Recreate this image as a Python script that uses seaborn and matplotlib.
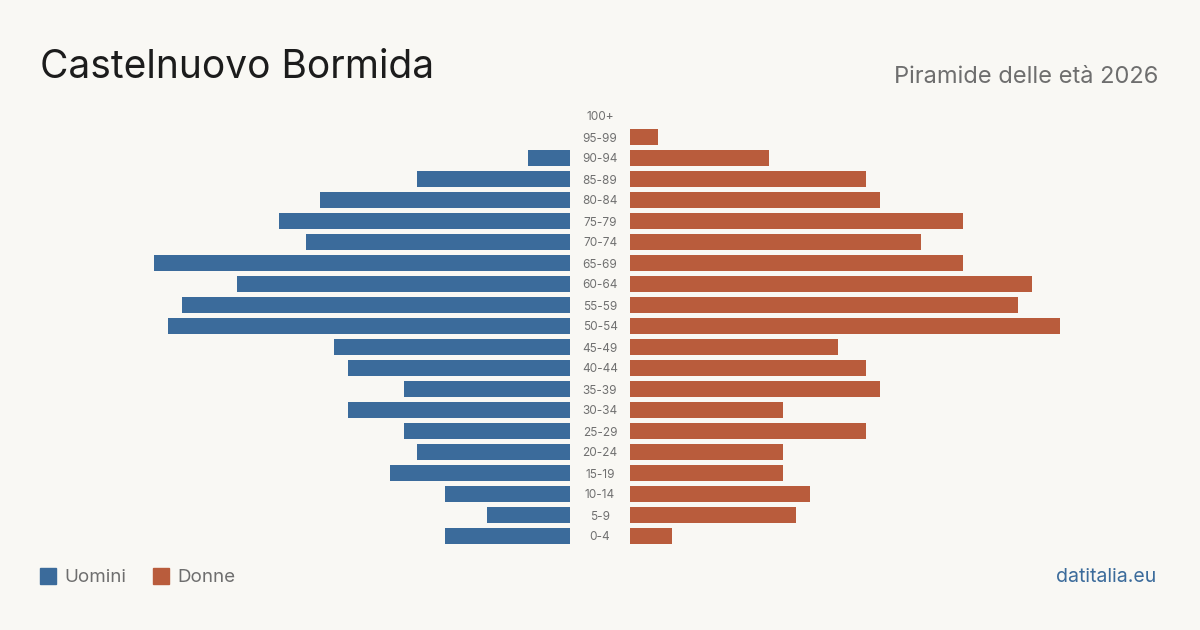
import matplotlib
matplotlib.use("Agg")
import matplotlib.pyplot as plt
import matplotlib.transforms as mtransforms
from matplotlib.patches import Rectangle
import seaborn as sns
import pandas as pd

ages = ["100+", "95-99", "90-94", "85-89", "80-84", "75-79", "70-74", "65-69",
        "60-64", "55-59", "50-54", "45-49", "40-44", "35-39", "30-34", "25-29",
        "20-24", "15-19", "10-14", "5-9", "0-4"]
men = [0, 0, 3, 11, 18, 21, 19, 30, 24, 28, 29, 17, 16, 12, 16, 12, 11, 13, 9, 6, 9]
women = [0, 2, 10, 17, 18, 24, 21, 24, 29, 28, 31, 15, 17, 18, 11, 17, 11, 11, 13, 12, 3]

BG = "#f9f8f4"
BLUE = "#3b6b9b"
ORANGE = "#b95c3c"
GRAY = "#6e6e6e"

sns.set_theme(style="white")
plt.rcParams["font.family"] = ["Inter", "DejaVu Sans"]

W, H = 1200, 630
fig = plt.figure(figsize=(W / 100, H / 100), dpi=100, facecolor=BG)

xmax = 31
top_px, bot_px = 105.5, 546.5
ax_l = fig.add_axes([140 / W, 1 - bot_px / H, 430 / W, (bot_px - top_px) / H])
ax_r = fig.add_axes([630 / W, 1 - bot_px / H, 430 / W, (bot_px - top_px) / H])

df = pd.DataFrame({"age": ages, "men": men, "women": women})

sns.barplot(data=df, x="men", y="age", orient="h", color=BLUE, saturation=1,
            width=0.8, ax=ax_l, order=ages, linewidth=0, edgecolor="none")
sns.barplot(data=df, x="women", y="age", orient="h", color=ORANGE, saturation=1,
            width=0.8, ax=ax_r, order=ages, linewidth=0, edgecolor="none")

for ax in (ax_l, ax_r):
    ax.set_facecolor("none")
    ax.set_ylim(len(ages) - 0.5, -0.5)
    ax.set_xlabel("")
    ax.set_ylabel("")
    ax.set_xticks([])
    ax.set_yticks([])
    for s in ax.spines.values():
        s.set_visible(False)
ax_l.set_xlim(xmax, 0)
ax_r.set_xlim(0, xmax)

trans = mtransforms.blended_transform_factory(fig.transFigure, ax_l.transData)
offset = mtransforms.ScaledTranslation(0, -1.5 / 100, fig.dpi_scale_trans)
for i, a in enumerate(ages):
    fig.text(0.5, i, a, transform=trans + offset, ha="center", va="center",
             fontsize=8.5, color="#707070")

fig.text(40 / W, 1 - 67 / H, "Castelnuovo Bormida", fontsize=28, color="#1c1c1c",
         ha="left", va="center")
fig.text(1158 / W, 1 - 77 / H, "Piramide delle età 2026", fontsize=17, color=GRAY,
         ha="right", va="center")

# legend
fig.patches.append(Rectangle((40 / W, 1 - 584 / H), 16 / W, 16 / H,
                             transform=fig.transFigure, color=BLUE))
fig.text(64 / W, 1 - 577.5 / H, "Uomini", fontsize=13.5, color=GRAY, ha="left", va="center")
fig.patches.append(Rectangle((153 / W, 1 - 584 / H), 16 / W, 16 / H,
                             transform=fig.transFigure, color=ORANGE))
fig.text(177 / W, 1 - 577.5 / H, "Donne", fontsize=13.5, color=GRAY, ha="left", va="center")

fig.text(1156 / W, 1 - 577.5 / H, "datitalia.eu", fontsize=14, color=BLUE,
         ha="right", va="center")

fig.savefig("out.png", dpi=100, facecolor=BG)
